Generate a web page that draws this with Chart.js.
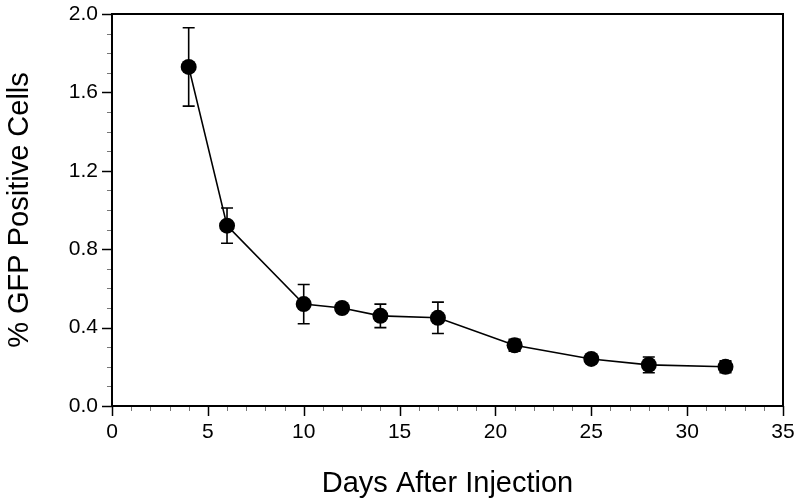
<!DOCTYPE html>
<html>
<head>
<meta charset="utf-8">
<script src="https://cdn.jsdelivr.net/npm/chart.js@4/dist/chart.umd.min.js"></script>
<style>
    html, body { margin: 0; padding: 0; background: #fff; }
    #wrap { width: 800px; height: 504px; }
</style>
</head>
<body>
<div id="wrap"><canvas id="gfp-chart" width="800" height="504"></canvas></div>
<script>
(function() {
    'use strict';

    const days = [4, 6, 10, 12, 14, 17, 21, 25, 28, 32];
    const gfpPercent = [1.73, 0.92, 0.52, 0.50, 0.46, 0.45, 0.31, 0.24, 0.21, 0.20];
    const gfpError = [0.20, 0.09, 0.10, 0.02, 0.06, 0.08, 0.03, 0.02, 0.04, 0.03];

    const FONT = 'Liberation Sans, Arial, Helvetica, sans-serif';

    // error bars, drawn before the markers so the dots sit on top
    const errorBars = {
        id: 'errorBars',
        beforeDatasetsDraw(chart) {
            const { ctx, scales: { x, y } } = chart;
            ctx.save();
            ctx.strokeStyle = '#000';
            ctx.lineWidth = 1.6;
            days.forEach((d, i) => {
                const px = x.getPixelForValue(d);
                const top = y.getPixelForValue(gfpPercent[i] + gfpError[i]);
                const bot = y.getPixelForValue(gfpPercent[i] - gfpError[i]);
                ctx.beginPath();
                ctx.moveTo(px, top); ctx.lineTo(px, bot);
                ctx.moveTo(px - 6, top); ctx.lineTo(px + 6, top);
                ctx.moveTo(px - 6, bot); ctx.lineTo(px + 6, bot);
                ctx.stroke();
            });
            ctx.restore();
        },
    };

    // frame plus outward major/minor tick marks
    const frameTicks = {
        id: 'frameTicks',
        afterDraw(chart) {
            const { ctx, chartArea: a, scales: { x, y } } = chart;
            ctx.save();
            ctx.lineCap = 'butt';
            for (let v = 0; v <= 35; v++) {
                const px = Math.round(x.getPixelForValue(v)) + 0.5;
                const major = v % 5 === 0;
                ctx.strokeStyle = major ? '#000' : '#777';
                ctx.lineWidth = major ? 1.5 : 1;
                ctx.beginPath();
                ctx.moveTo(px, a.bottom);
                ctx.lineTo(px, a.bottom + (major ? 10 : 5));
                ctx.stroke();
            }
            for (let k = 0; k <= 20; k++) {
                const py = Math.round(y.getPixelForValue(k / 10)) + 0.5;
                const major = k % 4 === 0;
                ctx.strokeStyle = major ? '#000' : '#777';
                ctx.lineWidth = major ? 1.5 : 1;
                ctx.beginPath();
                ctx.moveTo(a.left, py);
                ctx.lineTo(a.left - (major ? 10 : 5), py);
                ctx.stroke();
            }
            ctx.strokeStyle = '#000';
            ctx.lineWidth = 2;
            ctx.strokeRect(a.left, a.top, a.right - a.left, a.bottom - a.top);
            ctx.restore();
        },
    };

    function initChart() {
        const canvas = document.getElementById('gfp-chart');
        if (!canvas) return;

        new Chart(canvas, {
            type: 'line',
            data: {
                datasets: [{
                    label: '% GFP Positive Cells',
                    data: days.map((d, i) => ({ x: d, y: gfpPercent[i] })),
                    borderColor: '#000',
                    backgroundColor: '#000',
                    borderWidth: 1.6,
                    pointRadius: 8,
                    pointHoverRadius: 8,
                    pointBackgroundColor: '#000',
                    pointBorderWidth: 0,
                    tension: 0,
                    fill: false,
                }],
            },
            options: {
                responsive: false,
                animation: false,
                events: [],
                layout: { autoPadding: false, padding: { top: 14, right: 17, left: 0, bottom: 0 } },
                plugins: {
                    legend: { display: false },
                    tooltip: { enabled: false },
                },
                scales: {
                    x: {
                        type: 'linear',
                        min: 0,
                        max: 35,
                        grid: { display: false, drawTicks: false },
                        border: { display: false },
                        // label overhang is covered by layout padding
                        afterFit: s => { s.paddingLeft = 0; s.paddingRight = 0; },
                        ticks: {
                            stepSize: 5,
                            padding: 14,
                            color: '#000',
                            font: { family: FONT, size: 21 },
                            maxRotation: 0,
                        },
                        title: {
                            display: true,
                            text: 'Days After Injection',
                            color: '#000',
                            font: { family: FONT, size: 29 },
                            padding: { top: 7, bottom: 3 },
                        },
                    },
                    y: {
                        min: 0,
                        max: 2,
                        grid: { display: false, drawTicks: false },
                        border: { display: false },
                        afterFit: s => { s.paddingTop = 0; s.paddingBottom = 0; },
                        ticks: {
                            stepSize: 0.4,
                            padding: 14,
                            color: '#000',
                            font: { family: FONT, size: 21 },
                            callback: v => Number(v).toFixed(1),
                        },
                        title: {
                            display: true,
                            text: '% GFP Positive Cells',
                            color: '#000',
                            font: { family: FONT, size: 29 },
                            padding: { top: 3, bottom: 17 },
                        },
                    },
                },
            },
            plugins: [errorBars, frameTicks],
        });
    }

    if (document.readyState === 'loading') {
        document.addEventListener('DOMContentLoaded', initChart);
    } else {
        initChart();
    }
})();
</script>
</body>
</html>
